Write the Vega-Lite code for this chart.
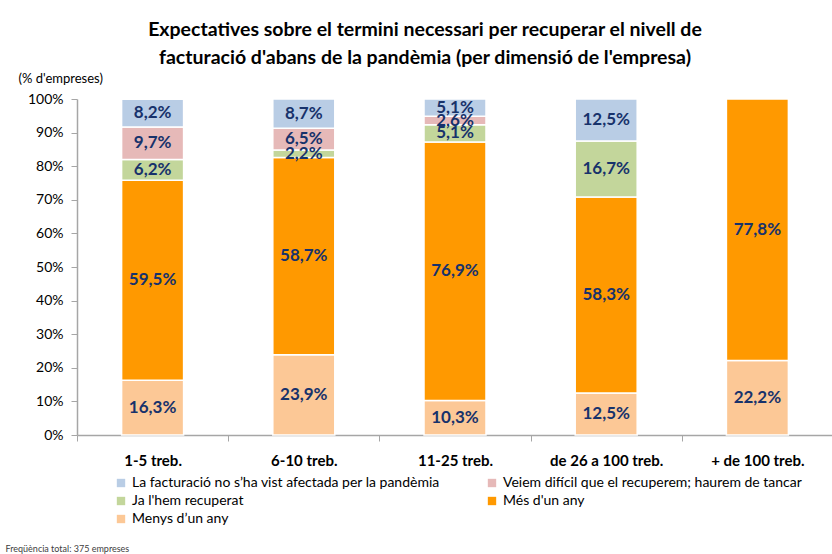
{
  "$schema": "https://vega.github.io/schema/vega-lite/v6.json",
  "autosize": {"type": "none"},
  "width": 756,
  "height": 336,
  "padding": {"left": 77, "top": 99, "right": 0, "bottom": 119},
  "background": "white",
  "config": {
    "font": "Lato",
    "view": {"stroke": null},
    "axisY": {
      "titleAngle": 0,
      "titleX": -59,
      "titleY": -21,
      "titleAlign": "left",
      "titleBaseline": "middle",
      "titleFontSize": 13,
      "titleFontWeight": "normal",
      "titleColor": "#000000",
      "labelFontSize": 14,
      "labelColor": "#000000",
      "labelPadding": 8,
      "tickSize": 6,
      "tickColor": "#a6a6a6",
      "domainColor": "#a6a6a6",
      "domainWidth": 1.5,
      "grid": false,
      "labelOverlap": false
    }
  },
  "title": {
    "text": ["Expectatives sobre el termini necessari per recuperar el nivell de", "facturació d'abans de la pandèmia (per dimensió de l'empresa)"],
    "anchor": "middle",
    "frame": "group",
    "dx": -30,
    "fontSize": 19.5,
    "fontWeight": "bold",
    "color": "#000000",
    "lineHeight": 28,
    "offset": 4
  },
  "data": {
    "values": [
      {"cat": "1-5 treb.", "serie": "Menys d’un any", "ord": 1, "v": 16.3},
      {"cat": "1-5 treb.", "serie": "Més d'un any", "ord": 2, "v": 59.5},
      {"cat": "1-5 treb.", "serie": "Ja l'hem recuperat", "ord": 3, "v": 6.2},
      {"cat": "1-5 treb.", "serie": "Veiem difícil que el recuperem; haurem de tancar", "ord": 4, "v": 9.7},
      {"cat": "1-5 treb.", "serie": "La facturació no s’ha vist afectada per la pandèmia", "ord": 5, "v": 8.2},
      {"cat": "6-10 treb.", "serie": "Menys d’un any", "ord": 1, "v": 23.9},
      {"cat": "6-10 treb.", "serie": "Més d'un any", "ord": 2, "v": 58.7},
      {"cat": "6-10 treb.", "serie": "Ja l'hem recuperat", "ord": 3, "v": 2.2},
      {"cat": "6-10 treb.", "serie": "Veiem difícil que el recuperem; haurem de tancar", "ord": 4, "v": 6.5},
      {"cat": "6-10 treb.", "serie": "La facturació no s’ha vist afectada per la pandèmia", "ord": 5, "v": 8.7},
      {"cat": "11-25 treb.", "serie": "Menys d’un any", "ord": 1, "v": 10.3},
      {"cat": "11-25 treb.", "serie": "Més d'un any", "ord": 2, "v": 76.9},
      {"cat": "11-25 treb.", "serie": "Ja l'hem recuperat", "ord": 3, "v": 5.1},
      {"cat": "11-25 treb.", "serie": "Veiem difícil que el recuperem; haurem de tancar", "ord": 4, "v": 2.6},
      {"cat": "11-25 treb.", "serie": "La facturació no s’ha vist afectada per la pandèmia", "ord": 5, "v": 5.1},
      {"cat": "de 26 a 100 treb.", "serie": "Menys d’un any", "ord": 1, "v": 12.5},
      {"cat": "de 26 a 100 treb.", "serie": "Més d'un any", "ord": 2, "v": 58.3},
      {"cat": "de 26 a 100 treb.", "serie": "Ja l'hem recuperat", "ord": 3, "v": 16.7},
      {"cat": "de 26 a 100 treb.", "serie": "Veiem difícil que el recuperem; haurem de tancar", "ord": 4, "v": 0},
      {"cat": "de 26 a 100 treb.", "serie": "La facturació no s’ha vist afectada per la pandèmia", "ord": 5, "v": 12.5},
      {"cat": "+ de 100 treb.", "serie": "Menys d’un any", "ord": 1, "v": 22.2},
      {"cat": "+ de 100 treb.", "serie": "Més d'un any", "ord": 2, "v": 77.8},
      {"cat": "+ de 100 treb.", "serie": "Ja l'hem recuperat", "ord": 3, "v": 0},
      {"cat": "+ de 100 treb.", "serie": "Veiem difícil que el recuperem; haurem de tancar", "ord": 4, "v": 0},
      {"cat": "+ de 100 treb.", "serie": "La facturació no s’ha vist afectada per la pandèmia", "ord": 5, "v": 0}
    ]
  },
  "transform": [
    {"filter": "datum.v > 0"},
    {"stack": "v", "groupby": ["cat"], "sort": [{"field": "ord", "order": "ascending"}], "as": ["y0", "y1"]},
    {"calculate": "(datum.y0 + datum.y1) / 2", "as": "ymid"},
    {"calculate": "replace(format(datum.v, '.1f'), '.', ',') + '%'", "as": "lbl"}
  ],
  "encoding": {
    "x": {
      "field": "cat",
      "type": "nominal",
      "sort": ["1-5 treb.", "6-10 treb.", "11-25 treb.", "de 26 a 100 treb.", "+ de 100 treb."],
      "scale": {"paddingInner": 0, "paddingOuter": 0},
      "axis": {
        "title": "Freqüència total: 375 empreses",
        "titleX": -72,
        "titleY": 116,
        "titleAnchor": "start",
        "titleAlign": "left",
        "titleBaseline": "alphabetic",
        "titleFontSize": 9,
        "titleFontWeight": "normal",
        "titleColor": "#404040",
        "labelAngle": 0,
        "labelFontSize": 15,
        "labelFontWeight": "bold",
        "labelColor": "#000000",
        "labelPadding": 12,
        "tickBand": "extent",
        "tickSize": 6,
        "tickColor": "#a6a6a6",
        "domainColor": "#a6a6a6",
        "domainWidth": 1.5
      }
    },
    "y": {
      "field": "y0",
      "type": "quantitative",
      "scale": {"domain": [0, 100], "nice": false},
      "axis": {
        "title": "(% d'empreses)",
        "values": [0, 10, 20, 30, 40, 50, 60, 70, 80, 90, 100],
        "labelExpr": "datum.value + '%'"
      }
    }
  },
  "layer": [
    {
      "mark": {"type": "bar", "width": {"band": 0.41}, "stroke": "white", "strokeWidth": 1.5},
      "encoding": {
        "y2": {"field": "y1"},
        "color": {
          "field": "serie",
          "type": "nominal",
          "scale": {
            "domain": ["La facturació no s’ha vist afectada per la pandèmia", "Veiem difícil que el recuperem; haurem de tancar", "Ja l'hem recuperat", "Més d'un any", "Menys d’un any"],
            "range": ["#b9cde5", "#e6b9b8", "#c3d69b", "#ff9900", "#fcc896"]
          },
          "legend": {
            "title": null,
            "orient": "none",
            "legendX": 37,
            "legendY": 377,
            "direction": "horizontal",
            "columns": 2,
            "symbolType": "square",
            "symbolSize": 70,
            "symbolStrokeWidth": 0,
            "labelFontSize": 14,
            "labelColor": "#000000",
            "labelLimit": 400,
            "rowPadding": 4,
            "columnPadding": 45,
            "gridAlign": "each"
          }
        }
      }
    },
    {
      "mark": {"type": "text", "fontSize": 17, "fontWeight": "bold", "color": "#17326b", "baseline": "middle"},
      "encoding": {
        "y": {
          "field": "ymid",
          "type": "quantitative",
          "axis": {
            "title": "(% d'empreses)",
            "values": [0, 10, 20, 30, 40, 50, 60, 70, 80, 90, 100],
            "labelExpr": "datum.value + '%'"
          }
        },
        "text": {"field": "lbl"}
      }
    }
  ]
}
